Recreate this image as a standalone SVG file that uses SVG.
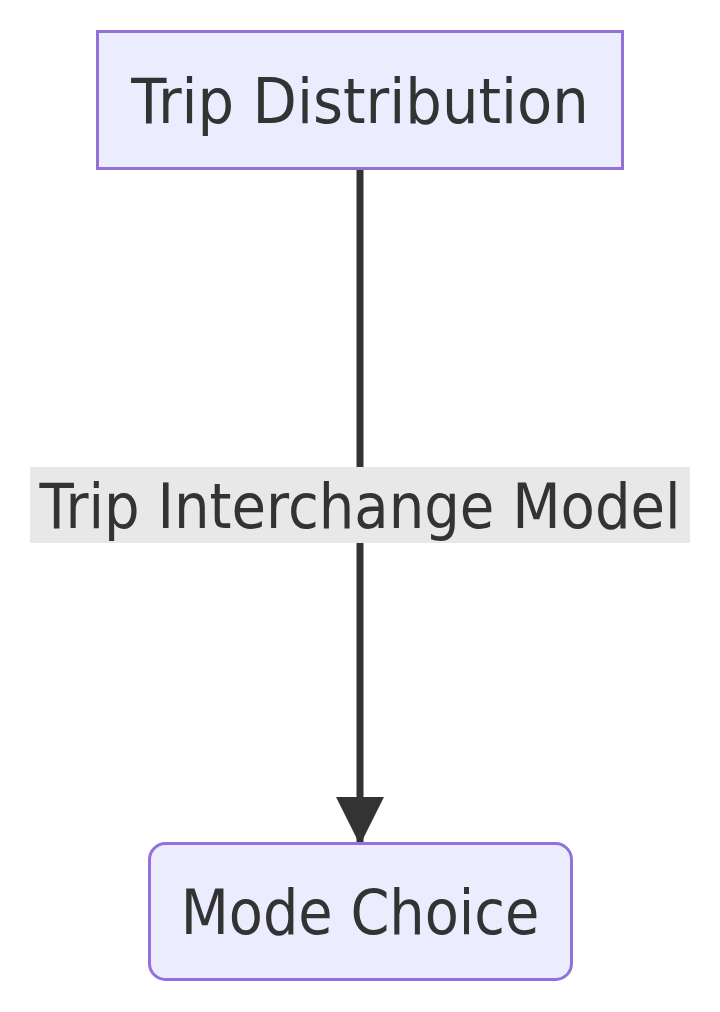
<svg xmlns="http://www.w3.org/2000/svg" width="720" height="1012" viewBox="0 0 720 1012">
  <style>
    .node rect { fill: #ECECFF; stroke: #9370DB; stroke-width: 3; }
    .lbl { font-family: "DejaVu Sans", "Liberation Sans", sans-serif; font-size: 62px; fill: #333333; text-anchor: middle; }
    .edge { stroke: #333333; stroke-width: 7; fill: none; }
  </style>
  <defs>
    <marker id="arrow" viewBox="0 0 10 10" refX="10" refY="5" markerUnits="userSpaceOnUse" markerWidth="48" markerHeight="48" orient="auto">
      <path d="M0,0 L10,5 L0,10 z" fill="#333333"/>
    </marker>
  </defs>
  <rect width="720" height="1012" fill="#ffffff"/>
  <g id="connectors">
    <path class="edge" d="M360,169 V467 M360,543 V845" marker-end="url(#arrow)"/>
    <g id="edge-label">
      <rect x="30" y="467" width="660" height="76" fill="#e8e8e8"/>
      <text class="lbl" transform="translate(360,528) scale(0.905,1)">Trip Interchange Model</text>
    </g>
  </g>
  <g id="node-trip-distribution" class="node">
    <rect x="97.5" y="31.5" width="525" height="137"/>
    <text class="lbl" transform="translate(360,123) scale(0.93,1)">Trip Distribution</text>
  </g>
  <g id="node-mode-choice" class="node">
    <rect x="149.5" y="843.5" width="422" height="136" rx="16" ry="16"/>
    <text class="lbl" transform="translate(360,934) scale(0.9,1)">Mode Choice</text>
  </g>
</svg>
